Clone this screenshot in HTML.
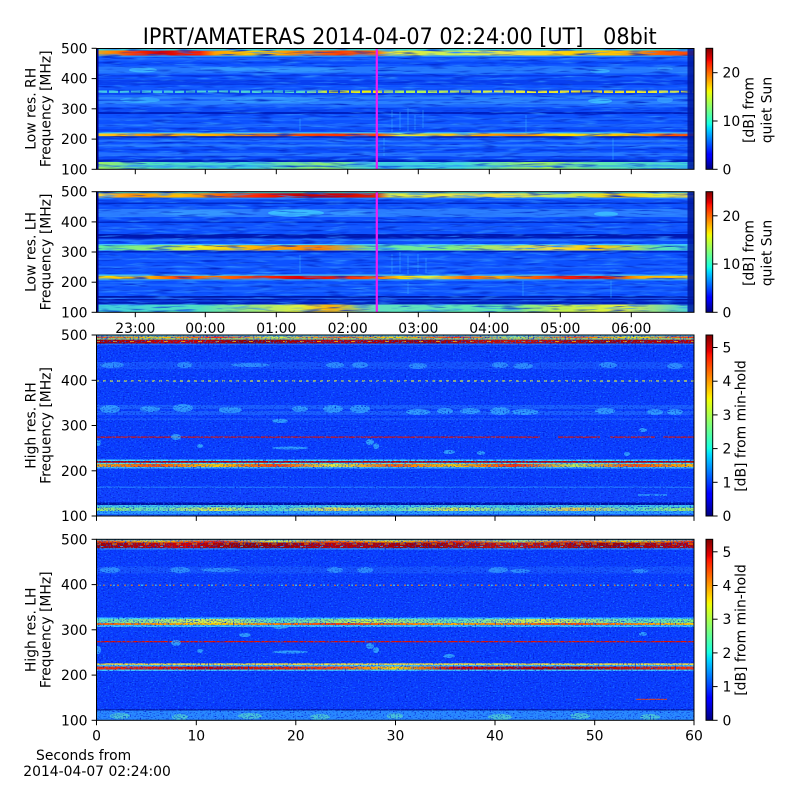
<!DOCTYPE html>
<html><head><meta charset="utf-8"><style>
html,body{margin:0;padding:0;background:#fff;}
svg{display:block;}
text{font-family:"DejaVu Sans","Liberation Sans",sans-serif;fill:#000;}
</style></head><body>
<svg width="800" height="800" viewBox="0 0 800 800" xmlns="http://www.w3.org/2000/svg">
<defs>
<linearGradient id="jet" x1="0" y1="1" x2="0" y2="0">
<stop offset="0" stop-color="#000080"/><stop offset="0.11" stop-color="#0000ff"/><stop offset="0.125" stop-color="#0000ff"/>
<stop offset="0.34" stop-color="#00dbff"/><stop offset="0.375" stop-color="#15ffe2"/><stop offset="0.5" stop-color="#7bff7b"/>
<stop offset="0.64" stop-color="#eeff08"/><stop offset="0.66" stop-color="#ffec00"/><stop offset="0.89" stop-color="#ff1300"/>
<stop offset="0.91" stop-color="#e80000"/><stop offset="1" stop-color="#800000"/>
</linearGradient>
<linearGradient id="p1top" gradientUnits="userSpaceOnUse" x1="96" y1="0" x2="694" y2="0">
<stop offset="0" stop-color="#ffb000"/><stop offset=".032" stop-color="#ff8000"/><stop offset=".065" stop-color="#ff3000"/><stop offset=".107" stop-color="#d80000"/><stop offset=".174" stop-color="#ff2000"/><stop offset=".199" stop-color="#ffa000"/><stop offset=".274" stop-color="#ffd000"/><stop offset=".341" stop-color="#ff8000"/><stop offset=".408" stop-color="#ff4000"/><stop offset=".468" stop-color="#ff6000"/><stop offset=".492" stop-color="#e8e838"/><stop offset=".592" stop-color="#c8f058"/><stop offset=".709" stop-color="#f0e040"/><stop offset=".793" stop-color="#ffd000"/><stop offset=".876" stop-color="#ffc000"/><stop offset=".943" stop-color="#ff6000"/><stop offset="1" stop-color="#ff4000"/>
</linearGradient>
<linearGradient id="p1_215" gradientUnits="userSpaceOnUse" x1="96" y1="0" x2="694" y2="0">
<stop offset="0" stop-color="#ffd020"/><stop offset=".09" stop-color="#ff9000"/><stop offset=".174" stop-color="#ffc000"/><stop offset=".274" stop-color="#ff7000"/><stop offset=".391" stop-color="#ff3000"/><stop offset=".468" stop-color="#ff4000"/><stop offset=".508" stop-color="#e0f040"/><stop offset=".625" stop-color="#ffb000"/><stop offset=".709" stop-color="#ff8000"/><stop offset=".776" stop-color="#ffe000"/><stop offset=".893" stop-color="#ffc000"/><stop offset=".96" stop-color="#ff5000"/><stop offset="1" stop-color="#ff5000"/>
</linearGradient>
<linearGradient id="p1dash" gradientUnits="userSpaceOnUse" x1="96" y1="0" x2="694" y2="0">
<stop offset="0" stop-color="#40c8e8"/><stop offset=".341" stop-color="#50d8d0"/><stop offset=".391" stop-color="#e0f020"/><stop offset=".468" stop-color="#f0f000"/><stop offset=".508" stop-color="#a0f060"/><stop offset=".676" stop-color="#e0f040"/><stop offset=".843" stop-color="#f0e020"/><stop offset="1" stop-color="#e0f040"/>
</linearGradient>
<linearGradient id="p1bot" gradientUnits="userSpaceOnUse" x1="96" y1="0" x2="694" y2="0">
<stop offset="0" stop-color="#a0f060"/><stop offset=".09" stop-color="#50e0c0"/><stop offset=".258" stop-color="#40d0e0"/><stop offset=".375" stop-color="#90f070"/><stop offset=".468" stop-color="#40d0e0"/><stop offset=".609" stop-color="#40d8e0"/><stop offset=".742" stop-color="#a0f060"/><stop offset=".843" stop-color="#60e8b0"/><stop offset="1" stop-color="#40d0e0"/>
</linearGradient>
<linearGradient id="p2top" gradientUnits="userSpaceOnUse" x1="96" y1="0" x2="694" y2="0">
<stop offset="0" stop-color="#ffe040"/><stop offset=".057" stop-color="#ff9000"/><stop offset=".14" stop-color="#ffc000"/><stop offset=".224" stop-color="#ff5000"/><stop offset=".274" stop-color="#ff2000"/><stop offset=".341" stop-color="#c00000"/><stop offset=".408" stop-color="#d00000"/><stop offset=".468" stop-color="#e02000"/><stop offset=".492" stop-color="#e0f040"/><stop offset=".676" stop-color="#f0e040"/><stop offset=".776" stop-color="#c0f060"/><stop offset=".876" stop-color="#ffd000"/><stop offset=".943" stop-color="#e0f040"/><stop offset="1" stop-color="#f0d040"/>
</linearGradient>
<linearGradient id="p2_315" gradientUnits="userSpaceOnUse" x1="96" y1="0" x2="694" y2="0">
<stop offset="0" stop-color="#60f0a0"/><stop offset=".09" stop-color="#90f070"/><stop offset=".174" stop-color="#f0f020"/><stop offset=".274" stop-color="#ffb000"/><stop offset=".375" stop-color="#ff8000"/><stop offset=".468" stop-color="#60e8b0"/><stop offset=".592" stop-color="#80f080"/><stop offset=".759" stop-color="#f0e040"/><stop offset=".843" stop-color="#ffd000"/><stop offset=".943" stop-color="#60e8b0"/><stop offset="1" stop-color="#40d0e0"/>
</linearGradient>
<linearGradient id="p2_215" gradientUnits="userSpaceOnUse" x1="96" y1="0" x2="694" y2="0">
<stop offset="0" stop-color="#ffe000"/><stop offset=".09" stop-color="#ffb000"/><stop offset=".14" stop-color="#ff4000"/><stop offset=".191" stop-color="#ff8000"/><stop offset=".274" stop-color="#ff3000"/><stop offset=".341" stop-color="#e00000"/><stop offset=".425" stop-color="#ff3000"/><stop offset=".468" stop-color="#ff6000"/><stop offset=".508" stop-color="#ffd000"/><stop offset=".559" stop-color="#e0f040"/><stop offset=".625" stop-color="#ff6000"/><stop offset=".676" stop-color="#ffb000"/><stop offset=".776" stop-color="#ff2000"/><stop offset=".843" stop-color="#e00000"/><stop offset=".91" stop-color="#ffb000"/><stop offset="1" stop-color="#ffd000"/>
</linearGradient>
<linearGradient id="p2bot" gradientUnits="userSpaceOnUse" x1="96" y1="0" x2="694" y2="0">
<stop offset="0" stop-color="#40d0e0"/><stop offset=".174" stop-color="#50e0c0"/><stop offset=".341" stop-color="#e0f040"/><stop offset=".391" stop-color="#ffb000"/><stop offset=".468" stop-color="#60e0c0"/><stop offset=".676" stop-color="#60e8b0"/><stop offset=".776" stop-color="#c0f050"/><stop offset=".876" stop-color="#e0f040"/><stop offset="1" stop-color="#40d0e0"/>
</linearGradient>
<linearGradient id="p3r1" gradientUnits="userSpaceOnUse" x1="96" y1="0" x2="694" y2="0">
<stop offset="0" stop-color="#ff4000"/><stop offset=".1" stop-color="#ffd000"/><stop offset=".2" stop-color="#ff2000"/><stop offset=".3" stop-color="#e0f040"/><stop offset=".4" stop-color="#ff6000"/><stop offset=".5" stop-color="#ffd000"/><stop offset=".6" stop-color="#ff3000"/><stop offset=".7" stop-color="#c0f060"/><stop offset=".8" stop-color="#ff5000"/><stop offset=".9" stop-color="#ffe000"/><stop offset="1" stop-color="#ff3000"/>
</linearGradient>
<linearGradient id="p3r2" gradientUnits="userSpaceOnUse" x1="96" y1="0" x2="694" y2="0">
<stop offset="0" stop-color="#a00000"/><stop offset=".15" stop-color="#d00000"/><stop offset=".25" stop-color="#900000"/><stop offset=".4" stop-color="#c00000"/><stop offset=".55" stop-color="#a00000"/><stop offset=".7" stop-color="#d01000"/><stop offset=".85" stop-color="#a00000"/><stop offset="1" stop-color="#c00000"/>
</linearGradient>
<linearGradient id="p3y215" gradientUnits="userSpaceOnUse" x1="96" y1="0" x2="694" y2="0">
<stop offset="0" stop-color="#ffb000"/><stop offset=".1" stop-color="#ff5000"/><stop offset=".2" stop-color="#ffd000"/><stop offset=".3" stop-color="#ff4000"/><stop offset=".4" stop-color="#e0f040"/><stop offset=".5" stop-color="#ff6000"/><stop offset=".6" stop-color="#ffd000"/><stop offset=".7" stop-color="#ff3000"/><stop offset=".8" stop-color="#c0f050"/><stop offset=".9" stop-color="#ff5000"/><stop offset="1" stop-color="#ffc000"/>
</linearGradient>
<linearGradient id="p3bot" gradientUnits="userSpaceOnUse" x1="96" y1="0" x2="694" y2="0">
<stop offset="0" stop-color="#a0f060"/><stop offset=".1" stop-color="#60e0c0"/><stop offset=".2" stop-color="#e0f040"/><stop offset=".3" stop-color="#50d8d0"/><stop offset=".4" stop-color="#f0e040"/><stop offset=".5" stop-color="#60e0c0"/><stop offset=".6" stop-color="#e0f040"/><stop offset=".7" stop-color="#50d8d0"/><stop offset=".8" stop-color="#f0d040"/><stop offset=".9" stop-color="#60e0c0"/><stop offset="1" stop-color="#a0f060"/>
</linearGradient>
<linearGradient id="p4_315" gradientUnits="userSpaceOnUse" x1="96" y1="0" x2="694" y2="0">
<stop offset="0" stop-color="#60e0c0"/><stop offset=".2" stop-color="#e0f040"/><stop offset=".3" stop-color="#50d8d0"/><stop offset=".45" stop-color="#c0f050"/><stop offset=".6" stop-color="#60e0c0"/><stop offset=".75" stop-color="#e0f040"/><stop offset=".9" stop-color="#60e0c0"/><stop offset="1" stop-color="#80f080"/>
</linearGradient>
<linearGradient id="p4_315r" gradientUnits="userSpaceOnUse" x1="96" y1="0" x2="694" y2="0">
<stop offset="0" stop-color="#ff6000"/><stop offset=".2" stop-color="#ffd000"/><stop offset=".4" stop-color="#ff4000"/><stop offset=".6" stop-color="#ffb000"/><stop offset=".8" stop-color="#ff5000"/><stop offset="1" stop-color="#ffd000"/>
</linearGradient>
<linearGradient id="p4r215" gradientUnits="userSpaceOnUse" x1="96" y1="0" x2="694" y2="0">
<stop offset="0" stop-color="#ff3000"/><stop offset=".2" stop-color="#c00000"/><stop offset=".4" stop-color="#ff4000"/><stop offset=".5" stop-color="#ffd000"/><stop offset=".6" stop-color="#d00000"/><stop offset=".8" stop-color="#a00000"/><stop offset="1" stop-color="#ff3000"/>
</linearGradient>
<filter id="nsL" x="0" y="0" width="1" height="1" color-interpolation-filters="sRGB">
<feTurbulence type="fractalNoise" baseFrequency="0.04 0.5" numOctaves="2" seed="4"/>
<feColorMatrix type="matrix" values="0 0 0 0 0.18  0 0 0 0 0.55  0 0 0 0 1  3 0 0 0 -1.6"/>
</filter>
<filter id="nsD" x="0" y="0" width="1" height="1" color-interpolation-filters="sRGB">
<feTurbulence type="fractalNoise" baseFrequency="0.04 0.5" numOctaves="2" seed="9"/>
<feColorMatrix type="matrix" values="0 0 0 0 0  0 0 0 0 0.15  0 0 0 0 0.8  -3 0 0 0 1.35"/>
</filter>
<filter id="nhL" x="0" y="0" width="1" height="1" color-interpolation-filters="sRGB">
<feTurbulence type="fractalNoise" baseFrequency="0.6 0.8" numOctaves="1" seed="3"/>
<feColorMatrix type="matrix" values="0 0 0 0 0.1  0 0 0 0 0.45  0 0 0 0 1  4 0 0 0 -2.15"/>
</filter>
<filter id="nhD" x="0" y="0" width="1" height="1" color-interpolation-filters="sRGB">
<feTurbulence type="fractalNoise" baseFrequency="0.6 0.8" numOctaves="1" seed="11"/>
<feColorMatrix type="matrix" values="0 0 0 0 0  0 0 0 0 0.1  0 0 0 0 0.8  -4 0 0 0 1.8"/>
</filter>
<clipPath id="c1"><rect x="96.5" y="48.3" width="597.5" height="121"/></clipPath>
<clipPath id="c2"><rect x="96.5" y="191.7" width="597.5" height="120.6"/></clipPath>
<clipPath id="c3"><rect x="96.5" y="335" width="597.5" height="181"/></clipPath>
<clipPath id="c4"><rect x="96.5" y="539.3" width="597.5" height="181"/></clipPath>
</defs>

<rect x="0" y="0" width="800" height="800" fill="#fff"/>

<text x="399.7" y="44" font-size="22" text-anchor="middle" textLength="514" lengthAdjust="spacingAndGlyphs" style="white-space:pre">IPRT/AMATERAS 2014-04-07 02:24:00 [UT]   08bit</text>

<!-- PANEL 1 -->
<g clip-path="url(#c1)">
<rect x="96" y="48" width="600" height="122" fill="#0d52ff"/>
<rect x="96" y="48" width="600" height="2.5" fill="#3ad6d0"/>
<rect x="96" y="50.5" width="600" height="5" fill="url(#p1top)"/>
<rect x="96" y="55.5" width="600" height="1.5" fill="#1f8cff"/>
<rect x="96" y="58" width="600" height="2.5" fill="#1a62ff"/>
<rect x="96" y="62" width="600" height="2" fill="#0a48f8"/>
<rect x="96" y="66.5" width="600" height="7" fill="#2478ff"/>
<ellipse cx="143" cy="70" rx="14" ry="2.5" fill="#40c0ff" opacity=".8"/>
<ellipse cx="230" cy="69" rx="30" ry="2" fill="#3aa8ff" opacity=".7"/>
<ellipse cx="300" cy="70" rx="45" ry="2.5" fill="#3aa8ff" opacity=".6"/>
<ellipse cx="600" cy="71" rx="10" ry="2" fill="#40c0ff" opacity=".7"/>
<ellipse cx="665" cy="69" rx="8" ry="2" fill="#40b0ff" opacity=".6"/>
<rect x="96" y="75" width="600" height="1.5" fill="#0838e8"/>
<rect x="96" y="80" width="600" height="5" fill="#0840f0"/>
<rect x="96" y="87" width="600" height="2" fill="#1458ff"/>
<rect x="96" y="90.5" width="600" height="2.5" fill="url(#p1dash)"/>
<line x1="96" y1="91.75" x2="694" y2="91.75" stroke="#0d52ff" stroke-width="2.5" stroke-dasharray="2 9"/>
<rect x="96" y="93" width="600" height="1.5" fill="#0a44f0"/>
<rect x="96" y="95" width="600" height="12" fill="#1c68ff"/>
<rect x="96" y="97" width="600" height="2" fill="#2a80ff"/>
<rect x="96" y="101" width="600" height="3" fill="#2a80ff"/>
<ellipse cx="140" cy="100" rx="20" ry="3" fill="#40c8ff" opacity=".6"/>
<ellipse cx="270" cy="100" rx="50" ry="3" fill="#40b8ff" opacity=".5"/>
<ellipse cx="500" cy="100" rx="40" ry="2" fill="#3090ff" opacity=".6"/>
<ellipse cx="600" cy="101" rx="12" ry="2.5" fill="#40c8ff" opacity=".8"/>
<ellipse cx="665" cy="100" rx="8" ry="3" fill="#40b0ff" opacity=".6"/>
<rect x="96" y="108" width="600" height="4" fill="#0a4af8"/>
<rect x="96" y="112" width="600" height="2" fill="#0020c0"/>
<rect x="96" y="118" width="600" height="2" fill="#1660ff"/>
<rect x="96" y="124" width="600" height="3" fill="#1a64ff"/>
<rect x="96" y="129" width="600" height="2" fill="#0a46f5"/>
<rect x="96" y="132.3" width="600" height="1.2" fill="#40d0ff"/>
<rect x="96" y="133.5" width="600" height="2.8" fill="url(#p1_215)"/>
<rect x="96" y="136.3" width="600" height="1.2" fill="#0010a0"/>
<rect x="96" y="140" width="600" height="2" fill="#2070ff"/>
<rect x="96" y="144.5" width="600" height="2" fill="#2a7cff"/>
<rect x="96" y="149" width="600" height="1.5" fill="#0a44f0"/>
<rect x="96" y="153" width="600" height="3" fill="#2470ff"/>
<rect x="96" y="156.5" width="600" height="2" fill="#0a46f5"/>
<rect x="96" y="159.5" width="600" height="2.5" fill="#0020b8"/>
<rect x="96" y="162" width="600" height="8" fill="url(#p1bot)"/>
<rect x="96" y="165.5" width="600" height="1" fill="#2080ff" opacity=".7"/>
<g stroke="#40c8ff" stroke-width="1" opacity=".45">
<line x1="392" y1="110" x2="392" y2="132"/><line x1="400" y1="112" x2="400" y2="130"/><line x1="408" y1="108" x2="408" y2="131"/><line x1="415" y1="115" x2="415" y2="130"/><line x1="423" y1="110" x2="423" y2="128"/><line x1="384" y1="138" x2="384" y2="156"/><line x1="526" y1="115" x2="526" y2="132"/><line x1="613" y1="138" x2="613" y2="160"/><line x1="300" y1="118" x2="300" y2="131"/>
</g>
<rect x="96" y="48" width="600" height="122" filter="url(#nsL)"/>
<rect x="96" y="48" width="600" height="122" filter="url(#nsD)"/>
<rect x="96" y="48" width="2.5" height="122" fill="#000090"/>
<rect x="687.5" y="48" width="7" height="122" fill="#0018a0" opacity=".85"/>
<rect x="375.7" y="48" width="2.2" height="122" fill="#f01ef0"/>
</g>
<rect x="96.5" y="48.5" width="597.5" height="120.8" fill="none" stroke="#000" stroke-width="1"/>

<!-- PANEL 2 -->
<g clip-path="url(#c2)">
<rect x="96" y="191" width="600" height="122" fill="#0d52ff"/>
<rect x="96" y="191.5" width="600" height="1.8" fill="#40d8c0"/>
<rect x="96" y="193.3" width="600" height="4.4" fill="url(#p2top)"/>
<rect x="96" y="197.7" width="600" height="1.4" fill="#1f80ff"/>
<rect x="96" y="202.5" width="600" height="1.5" fill="#0028c8"/>
<rect x="96" y="209" width="600" height="8" fill="#2a7cff"/>
<ellipse cx="200" cy="213" rx="40" ry="3" fill="#40b0ff" opacity=".5"/>
<ellipse cx="296" cy="213" rx="28" ry="3.5" fill="#40d0ff" opacity=".75"/>
<ellipse cx="350" cy="213" rx="20" ry="2.5" fill="#40b0ff" opacity=".5"/>
<ellipse cx="606" cy="214" rx="12" ry="2.5" fill="#40d0ff" opacity=".7"/>
<rect x="96" y="221.5" width="600" height="1.5" fill="#0028c8"/>
<rect x="96" y="226" width="600" height="3" fill="#1458ff"/>
<rect x="96" y="234" width="600" height="4.5" fill="#0018b0"/>
<rect x="96" y="239.5" width="600" height="1.5" fill="#2070ff"/>
<rect x="96" y="244" width="600" height="1.2" fill="#40c8ff"/>
<rect x="96" y="245.2" width="600" height="5.3" fill="url(#p2_315)"/>
<rect x="96" y="251" width="600" height="1.5" fill="#0020c0"/>
<rect x="96" y="258" width="600" height="2" fill="#1a62ff"/>
<rect x="96" y="266" width="600" height="2" fill="#1a62ff"/>
<rect x="96" y="274.5" width="600" height="1.3" fill="#40d0ff"/>
<rect x="96" y="275.8" width="600" height="3.5" fill="url(#p2_215)"/>
<rect x="96" y="279.3" width="600" height="1.2" fill="#2aa0ff"/>
<rect x="96" y="284" width="600" height="2" fill="#1a64ff"/>
<rect x="96" y="290" width="600" height="2" fill="#1a64ff"/>
<rect x="96" y="296" width="600" height="4.5" fill="#0018a8"/>
<rect x="96" y="297.8" width="600" height="1" fill="#1a60ff"/>
<rect x="96" y="301.5" width="600" height="2.8" fill="#0020b8"/>
<rect x="96" y="304.5" width="600" height="8" fill="url(#p2bot)"/>
<g stroke="#40c8ff" stroke-width="1" opacity=".45">
<line x1="392" y1="254" x2="392" y2="274"/><line x1="400" y1="252" x2="400" y2="273"/><line x1="408" y1="256" x2="408" y2="274"/><line x1="418" y1="254" x2="418" y2="272"/><line x1="426" y1="258" x2="426" y2="273"/><line x1="300" y1="255" x2="300" y2="273"/><line x1="523" y1="281" x2="523" y2="296"/><line x1="611" y1="280" x2="611" y2="298"/><line x1="408" y1="282" x2="408" y2="294"/>
</g>
<rect x="96" y="191" width="600" height="122" filter="url(#nsL)"/>
<rect x="96" y="191" width="600" height="122" filter="url(#nsD)"/>
<rect x="96" y="191" width="2.5" height="122" fill="#000090"/>
<rect x="687.5" y="191" width="7" height="122" fill="#0018a0" opacity=".85"/>
<rect x="375.7" y="191" width="2.2" height="122" fill="#f01ef0"/>
</g>
<rect x="96.5" y="191.7" width="597.5" height="120.6" fill="none" stroke="#000" stroke-width="1"/>

<!-- PANEL 3 -->
<g clip-path="url(#c3)">
<rect x="96" y="334" width="600" height="183" fill="#0a3cff"/>
<rect x="96" y="335" width="600" height="1.5" fill="#40c8ff"/>
<rect x="96" y="336.5" width="600" height="1.7" fill="url(#p3r1)"/>
<rect x="96" y="338.2" width="600" height="1.5" fill="#a8e860"/>
<rect x="96" y="339.7" width="600" height="3.8" fill="url(#p3r2)"/>
<line x1="96" y1="341.5" x2="694" y2="341.5" stroke="#ffc000" stroke-width="1" stroke-dasharray="4 13" opacity=".8"/>
<rect x="96" y="343.5" width="600" height="1.5" fill="#1a70ff"/>
<rect x="96" y="362" width="600" height="7" fill="#1550ff"/>
<g fill="#40b8ff" opacity=".6">
<ellipse cx="112" cy="365" rx="12" ry="3"/><ellipse cx="185" cy="365" rx="8" ry="3"/><ellipse cx="335" cy="365" rx="9" ry="3"/><ellipse cx="360" cy="365" rx="8" ry="3"/><ellipse cx="418" cy="366" rx="9" ry="3"/><ellipse cx="500" cy="365" rx="8" ry="3"/><ellipse cx="523" cy="366" rx="10" ry="3"/><ellipse cx="608" cy="365" rx="9" ry="3"/><ellipse cx="675" cy="366" rx="8" ry="3"/><ellipse cx="250" cy="365" rx="20" ry="2"/>
</g>
<line x1="96" y1="381" x2="694" y2="381" stroke="#e0f040" stroke-width="1.3" stroke-dasharray="3 4"/>
<rect x="96" y="405" width="600" height="4" fill="#1a5cff"/>
<rect x="96" y="411" width="600" height="4" fill="#1a5cff"/>
<g fill="#40c0ff" opacity=".65">
<ellipse cx="110" cy="409" rx="10" ry="4"/><ellipse cx="150" cy="409" rx="10" ry="3"/><ellipse cx="183" cy="408" rx="10" ry="4"/><ellipse cx="230" cy="410" rx="12" ry="3"/><ellipse cx="300" cy="409" rx="8" ry="3"/><ellipse cx="333" cy="409" rx="10" ry="4"/><ellipse cx="360" cy="409" rx="10" ry="4"/><ellipse cx="418" cy="412" rx="12" ry="3"/><ellipse cx="445" cy="411" rx="8" ry="3"/><ellipse cx="470" cy="411" rx="10" ry="3"/><ellipse cx="500" cy="411" rx="10" ry="4"/><ellipse cx="525" cy="412" rx="14" ry="3"/><ellipse cx="605" cy="411" rx="10" ry="3"/><ellipse cx="655" cy="412" rx="8" ry="3"/><ellipse cx="675" cy="412" rx="8" ry="3"/>
</g>
<rect x="96" y="418.5" width="600" height="1.2" fill="#2060ff"/>
<rect x="96" y="436.5" width="600" height="1.2" fill="#e01000"/>
<rect x="540" y="436" width="18" height="2" fill="#0a3cff"/>
<rect x="600" y="436" width="10" height="2" fill="#0a3cff"/>
<rect x="655" y="436" width="8" height="2" fill="#0a3cff"/>
<g fill="#40c8ff" opacity=".7">
<ellipse cx="98" cy="443" rx="3" ry="3"/><ellipse cx="176" cy="437" rx="5" ry="3"/><ellipse cx="200" cy="446" rx="3" ry="2"/><ellipse cx="290" cy="448" rx="18" ry="1.5"/><ellipse cx="370" cy="442" rx="4" ry="3"/><ellipse cx="376" cy="446" rx="3" ry="3"/><ellipse cx="449" cy="452" rx="6" ry="2"/><ellipse cx="481" cy="453" rx="4" ry="2"/><ellipse cx="643" cy="430" rx="4" ry="2"/><ellipse cx="280" cy="421" rx="8" ry="2"/><ellipse cx="627" cy="454" rx="3" ry="2"/>
</g>
<rect x="96" y="459.5" width="600" height="1.5" fill="#40d8ff"/>
<rect x="96" y="461" width="600" height="1.8" fill="#c00000"/>
<rect x="96" y="462.8" width="600" height="1.2" fill="#60e0d0"/>
<rect x="96" y="464" width="600" height="3" fill="url(#p3y215)"/>
<rect x="96" y="467" width="600" height="1.5" fill="#40b8ff"/>
<rect x="96" y="486.5" width="600" height="1.5" fill="#2070ff"/>
<rect x="96" y="489" width="600" height="13" fill="#1040ff"/>
<rect x="638" y="494.5" width="29" height="1" fill="#40d0ff"/>
<rect x="96" y="502.5" width="600" height="2.5" fill="#0010a0"/>
<rect x="96" y="505" width="600" height="2.5" fill="#40c8f0"/>
<rect x="96" y="507.5" width="600" height="3.5" fill="url(#p3bot)"/>
<rect x="96" y="511" width="600" height="3" fill="#2aa0ff"/>
<rect x="96" y="514" width="600" height="2" fill="#1a64ff"/>
<rect x="96" y="334" width="600" height="183" filter="url(#nhL)"/>
<rect x="96" y="334" width="600" height="183" filter="url(#nhD)"/>
</g>
<rect x="96.5" y="335" width="597.5" height="181" fill="none" stroke="#000" stroke-width="1"/>

<!-- PANEL 4 -->
<g clip-path="url(#c4)">
<rect x="96" y="538" width="600" height="183" fill="#0a3cff"/>
<rect x="96" y="539.3" width="600" height="1.2" fill="#50d0ff"/>
<rect x="96" y="540.5" width="600" height="2" fill="url(#p3r1)"/>
<rect x="96" y="542.5" width="600" height="5.8" fill="url(#p3r2)"/>
<line x1="96" y1="544" x2="694" y2="544" stroke="#ffc000" stroke-width="1" stroke-dasharray="5 11" opacity=".8"/>
<line x1="100" y1="546.5" x2="694" y2="546.5" stroke="#40d0ff" stroke-width="1" stroke-dasharray="3 17" opacity=".7"/>
<rect x="96" y="548.3" width="600" height="1.2" fill="#30a0ff"/>
<rect x="96" y="566.5" width="600" height="7" fill="#1550ff"/>
<g fill="#40b8ff" opacity=".6">
<ellipse cx="110" cy="570" rx="10" ry="3"/><ellipse cx="180" cy="570" rx="10" ry="3"/><ellipse cx="220" cy="570" rx="20" ry="2"/><ellipse cx="335" cy="570" rx="8" ry="3"/><ellipse cx="365" cy="570" rx="8" ry="3"/><ellipse cx="498" cy="570" rx="10" ry="3"/><ellipse cx="520" cy="571" rx="10" ry="2"/><ellipse cx="640" cy="571" rx="8" ry="2"/>
</g>
<line x1="96" y1="585.2" x2="694" y2="585.2" stroke="#ff8000" stroke-width="1.2" stroke-dasharray="2 5"/>
<line x1="99" y1="585.2" x2="694" y2="585.2" stroke="#40e0ff" stroke-width="1.2" stroke-dasharray="2 12"/>
<rect x="96" y="617.5" width="600" height="1.5" fill="#40d0ff"/>
<rect x="96" y="619" width="600" height="4" fill="url(#p4_315)"/>
<rect x="96" y="623" width="600" height="2" fill="url(#p4_315r)"/>
<rect x="96" y="625" width="600" height="2" fill="#40c0ff"/>
<rect x="96" y="641" width="600" height="1.3" fill="#e01000"/>
<g fill="#40c8ff" opacity=".7">
<ellipse cx="98" cy="650" rx="3" ry="4"/><ellipse cx="176" cy="643" rx="5" ry="3"/><ellipse cx="200" cy="651" rx="3" ry="2"/><ellipse cx="290" cy="652" rx="18" ry="1.5"/><ellipse cx="370" cy="646" rx="4" ry="3"/><ellipse cx="376" cy="650" rx="3" ry="3"/><ellipse cx="449" cy="656" rx="6" ry="2"/><ellipse cx="643" cy="634" rx="4" ry="2"/><ellipse cx="280" cy="627" rx="8" ry="2"/><ellipse cx="245" cy="635" rx="6" ry="2"/>
</g>
<rect x="96" y="663.3" width="600" height="1.7" fill="#f0e040"/>
<rect x="96" y="665" width="600" height="1.5" fill="#40c8ff"/>
<rect x="96" y="666.5" width="600" height="3" fill="url(#p4r215)"/>
<rect x="96" y="669.5" width="600" height="1.5" fill="#40c8ff"/>
<rect x="636" y="698.8" width="31" height="1" fill="#ff4000"/>
<rect x="96" y="709.3" width="600" height="1.2" fill="#001090"/>
<rect x="96" y="710.5" width="600" height="10" fill="#2a8aff"/>
<g fill="#60e8c0" opacity=".6">
<ellipse cx="120" cy="716" rx="10" ry="3"/><ellipse cx="180" cy="717" rx="8" ry="3"/><ellipse cx="250" cy="716" rx="12" ry="3"/><ellipse cx="320" cy="717" rx="10" ry="3"/><ellipse cx="395" cy="716" rx="8" ry="3"/><ellipse cx="500" cy="717" rx="12" ry="3"/><ellipse cx="580" cy="716" rx="10" ry="3"/><ellipse cx="650" cy="717" rx="10" ry="3"/>
</g>
<rect x="96" y="538" width="600" height="183" filter="url(#nhL)"/>
<rect x="96" y="538" width="600" height="183" filter="url(#nhD)"/>
</g>
<rect x="96.5" y="539.3" width="597.5" height="181" fill="none" stroke="#000" stroke-width="1"/>

<!-- Ticks -->
<g stroke="#000" stroke-width="1">
<line x1="91.6" y1="48.3" x2="96.5" y2="48.3"/><line x1="91.6" y1="78.6" x2="96.5" y2="78.6"/><line x1="91.6" y1="108.8" x2="96.5" y2="108.8"/><line x1="91.6" y1="139.1" x2="96.5" y2="139.1"/><line x1="91.6" y1="169.3" x2="96.5" y2="169.3"/>
<line x1="91.6" y1="191.7" x2="96.5" y2="191.7"/><line x1="91.6" y1="221.9" x2="96.5" y2="221.9"/><line x1="91.6" y1="252" x2="96.5" y2="252"/><line x1="91.6" y1="282.2" x2="96.5" y2="282.2"/><line x1="91.6" y1="312.3" x2="96.5" y2="312.3"/>
<line x1="91.6" y1="335" x2="96.5" y2="335"/><line x1="91.6" y1="380.3" x2="96.5" y2="380.3"/><line x1="91.6" y1="425.5" x2="96.5" y2="425.5"/><line x1="91.6" y1="470.8" x2="96.5" y2="470.8"/><line x1="91.6" y1="516" x2="96.5" y2="516"/>
<line x1="91.6" y1="539.3" x2="96.5" y2="539.3"/><line x1="91.6" y1="584.6" x2="96.5" y2="584.6"/><line x1="91.6" y1="629.8" x2="96.5" y2="629.8"/><line x1="91.6" y1="675.1" x2="96.5" y2="675.1"/><line x1="91.6" y1="720.3" x2="96.5" y2="720.3"/>
<line x1="135.3" y1="169.3" x2="135.3" y2="174.2"/><line x1="205.3" y1="169.3" x2="205.3" y2="174.2"/><line x1="276.3" y1="169.3" x2="276.3" y2="174.2"/><line x1="347.7" y1="169.3" x2="347.7" y2="174.2"/><line x1="418.3" y1="169.3" x2="418.3" y2="174.2"/><line x1="489.3" y1="169.3" x2="489.3" y2="174.2"/><line x1="560.3" y1="169.3" x2="560.3" y2="174.2"/><line x1="631.3" y1="169.3" x2="631.3" y2="174.2"/>
<line x1="135.3" y1="312.3" x2="135.3" y2="317.2"/><line x1="205.3" y1="312.3" x2="205.3" y2="317.2"/><line x1="276.3" y1="312.3" x2="276.3" y2="317.2"/><line x1="347.7" y1="312.3" x2="347.7" y2="317.2"/><line x1="418.3" y1="312.3" x2="418.3" y2="317.2"/><line x1="489.3" y1="312.3" x2="489.3" y2="317.2"/><line x1="560.3" y1="312.3" x2="560.3" y2="317.2"/><line x1="631.3" y1="312.3" x2="631.3" y2="317.2"/>
<line x1="96.5" y1="516" x2="96.5" y2="520.9"/><line x1="196.3" y1="516" x2="196.3" y2="520.9"/><line x1="295.8" y1="516" x2="295.8" y2="520.9"/><line x1="395.5" y1="516" x2="395.5" y2="520.9"/><line x1="495" y1="516" x2="495" y2="520.9"/><line x1="594.7" y1="516" x2="594.7" y2="520.9"/><line x1="694" y1="516" x2="694" y2="520.9"/>
<line x1="96.5" y1="720.3" x2="96.5" y2="725.2"/><line x1="196.3" y1="720.3" x2="196.3" y2="725.2"/><line x1="295.8" y1="720.3" x2="295.8" y2="725.2"/><line x1="395.5" y1="720.3" x2="395.5" y2="725.2"/><line x1="495" y1="720.3" x2="495" y2="725.2"/><line x1="594.7" y1="720.3" x2="594.7" y2="725.2"/><line x1="694" y1="720.3" x2="694" y2="725.2"/>
</g>

<g font-size="13.9" text-anchor="end">
<text x="87.5" y="53.3">500</text><text x="87.5" y="83.6">400</text><text x="87.5" y="113.8">300</text><text x="87.5" y="144.1">200</text><text x="87.5" y="174.3">100</text>
<text x="87.5" y="196.7">500</text><text x="87.5" y="226.9">400</text><text x="87.5" y="257">300</text><text x="87.5" y="287.2">200</text><text x="87.5" y="317.3">100</text>
<text x="87.5" y="340">500</text><text x="87.5" y="385.3">400</text><text x="87.5" y="430.5">300</text><text x="87.5" y="475.8">200</text><text x="87.5" y="521">100</text>
<text x="87.5" y="544.3">500</text><text x="87.5" y="589.6">400</text><text x="87.5" y="634.8">300</text><text x="87.5" y="680.1">200</text><text x="87.5" y="725.3">100</text>
</g>

<g font-size="13.9" text-anchor="middle">
<text x="135.3" y="333">23:00</text><text x="205.3" y="333">00:00</text><text x="276.3" y="333">01:00</text><text x="347.7" y="333">02:00</text><text x="418.3" y="333">03:00</text><text x="489.3" y="333">04:00</text><text x="560.3" y="333">05:00</text><text x="631.3" y="333">06:00</text>
<text x="96.5" y="740.5">0</text><text x="196.3" y="740.5">10</text><text x="295.8" y="740.5">20</text><text x="395.5" y="740.5">30</text><text x="495" y="740.5">40</text><text x="594.7" y="740.5">50</text><text x="694" y="740.5">60</text>
</g>
<text x="36" y="760" font-size="13.9">Seconds from</text>
<text x="23.3" y="776.2" font-size="13.9">2014-04-07 02:24:00</text>

<g font-size="13.9" text-anchor="middle">
<text transform="translate(35.5,108.8) rotate(-90)">Low res. RH</text>
<text transform="translate(50.3,108.8) rotate(-90)">Frequency [MHz]</text>
<text transform="translate(35.5,252) rotate(-90)">Low res. LH</text>
<text transform="translate(50.3,252) rotate(-90)">Frequency [MHz]</text>
<text transform="translate(35.5,425.5) rotate(-90)">High res. RH</text>
<text transform="translate(50.3,425.5) rotate(-90)">Frequency [MHz]</text>
<text transform="translate(35.5,629.8) rotate(-90)">High res. LH</text>
<text transform="translate(50.3,629.8) rotate(-90)">Frequency [MHz]</text>
</g>

<rect x="706" y="48.3" width="6.7" height="121" fill="url(#jet)" stroke="#000" stroke-width="1"/>
<rect x="706" y="191.7" width="6.7" height="120.6" fill="url(#jet)" stroke="#000" stroke-width="1"/>
<rect x="706" y="335" width="6.7" height="181" fill="url(#jet)" stroke="#000" stroke-width="1"/>
<rect x="706" y="539.3" width="6.7" height="181" fill="url(#jet)" stroke="#000" stroke-width="1"/>
<g stroke="#000" stroke-width="1">
<line x1="712.7" y1="169.3" x2="717.6" y2="169.3"/><line x1="712.7" y1="121" x2="717.6" y2="121"/><line x1="712.7" y1="72.7" x2="717.6" y2="72.7"/>
<line x1="712.7" y1="312.3" x2="717.6" y2="312.3"/><line x1="712.7" y1="264" x2="717.6" y2="264"/><line x1="712.7" y1="215.8" x2="717.6" y2="215.8"/>
<line x1="712.7" y1="516" x2="717.6" y2="516"/><line x1="712.7" y1="482.3" x2="717.6" y2="482.3"/><line x1="712.7" y1="448.6" x2="717.6" y2="448.6"/><line x1="712.7" y1="414.9" x2="717.6" y2="414.9"/><line x1="712.7" y1="381.2" x2="717.6" y2="381.2"/><line x1="712.7" y1="347.5" x2="717.6" y2="347.5"/>
<line x1="712.7" y1="720.3" x2="717.6" y2="720.3"/><line x1="712.7" y1="686.6" x2="717.6" y2="686.6"/><line x1="712.7" y1="652.9" x2="717.6" y2="652.9"/><line x1="712.7" y1="619.2" x2="717.6" y2="619.2"/><line x1="712.7" y1="585.5" x2="717.6" y2="585.5"/><line x1="712.7" y1="551.8" x2="717.6" y2="551.8"/>
</g>
<g font-size="13.9">
<text x="722.5" y="174.3">0</text><text x="722.5" y="126">10</text><text x="722.5" y="77.7">20</text>
<text x="722.5" y="317.3">0</text><text x="722.5" y="269">10</text><text x="722.5" y="220.8">20</text>
<text x="722.5" y="521">0</text><text x="722.5" y="487.3">1</text><text x="722.5" y="453.6">2</text><text x="722.5" y="419.9">3</text><text x="722.5" y="386.2">4</text><text x="722.5" y="352.5">5</text>
<text x="722.5" y="725.3">0</text><text x="722.5" y="691.6">1</text><text x="722.5" y="657.9">2</text><text x="722.5" y="624.2">3</text><text x="722.5" y="590.5">4</text><text x="722.5" y="556.8">5</text>
</g>
<g font-size="13.9" text-anchor="middle">
<text transform="translate(753.5,110) rotate(-90)">[dB] from</text>
<text transform="translate(771.5,110) rotate(-90)">quiet Sun</text>
<text transform="translate(753.5,253) rotate(-90)">[dB] from</text>
<text transform="translate(771.5,253) rotate(-90)">quiet Sun</text>
<text transform="translate(745.5,426) rotate(-90)">[dB] from min-hold</text>
<text transform="translate(745.5,630) rotate(-90)">[dB] from min-hold</text>
</g>
</svg>
</body></html>
